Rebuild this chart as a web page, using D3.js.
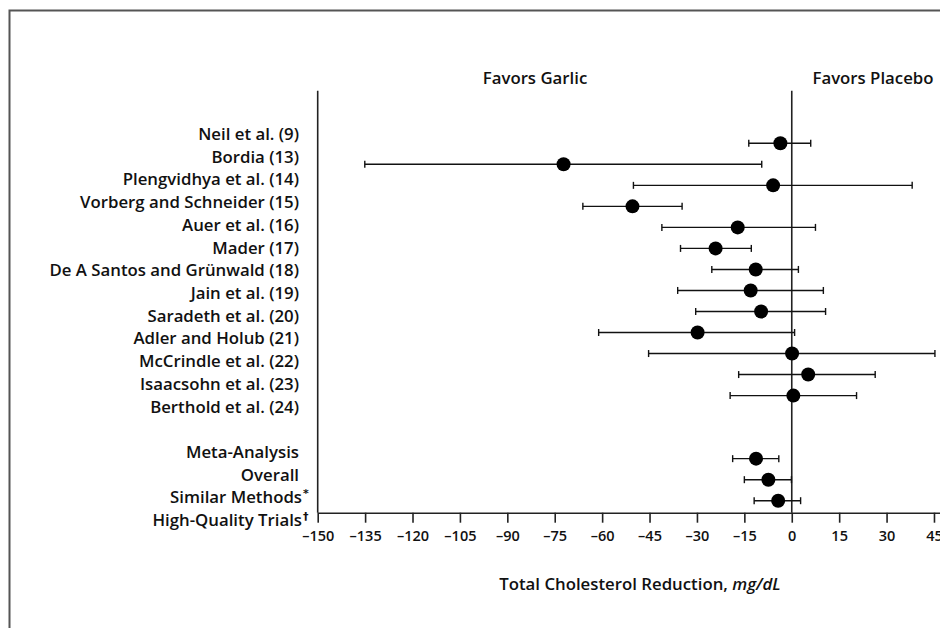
<!DOCTYPE html>
<html>
<head>
<meta charset="utf-8">
<script src="https://cdn.jsdelivr.net/npm/d3@7"></script>
<style>
  html, body { margin: 0; padding: 0; background: #fff; }
  svg { display: block; }
  text { font-family: "Open Sans", "Noto Sans", sans-serif; fill: #111; }
</style>
</head>
<body>
<svg id="chart" width="940" height="628"></svg>
<script>
// ---- data ----
const trials = ["Neil et al. (9)", "Bordia (13)", "Plengvidhya et al. (14)", "Vorberg and Schneider (15)",
  "Auer et al. (16)", "Mader (17)", "De A Santos and Grünwald (18)", "Jain et al. (19)",
  "Saradeth et al. (20)", "Adler and Holub (21)", "McCrindle et al. (22)", "Isaacsohn et al. (23)",
  "Berthold et al. (24)"];
const trialEstimate = [-3.6, -72.2, -5.9, -50.4, -17.1, -24.1, -11.4, -13.0, -9.7, -29.8, 0.1, 5.2, 0.5];
const trialLower    = [-13.6, -135.1, -50.1, -66.1, -41.1, -35.2, -25.3, -36.1, -30.4, -61.1, -45.3, -16.8, -19.5];
const trialUpper    = [6.0, -9.5, 38.1, -34.7, 7.5, -12.8, 2.1, 10.0, 10.7, 0.9, 45.3, 26.4, 20.5];

const metaHeading = "Meta-Analysis";
const metaRows = ["Overall", "Similar Methods", "High-Quality Trials"];
const metaMarks = ["", "*", "\u2020"];
const metaEstimate = [-11.3, -7.4, -4.3];
const metaLower    = [-18.7, -15.0, -11.9];
const metaUpper    = [-4.1, -0.1, 2.8];

const tickValues = [-150, -135, -120, -105, -90, -75, -60, -45, -30, -15, 0, 15, 30, 45];
const headerLeft = "Favors Garlic";
const headerRight = "Favors Placebo";
const axisTitle = "Total Cholesterol Reduction, ";
const axisUnit = "mg/dL";

// ---- layout ----
const svg = d3.select("#chart");
const axisY = 512.7, topY = 90.7;
const fs = "16.8px";

const x = d3.scaleLinear().domain([-150, 47]).range([317.7, 940.3]);

// point rows (trials, two spacer rows, meta rows)
const pointDomain = trials.concat(["_s1", "_s2"], metaRows);
const yPoint = d3.scalePoint().domain(pointDomain).range([143.3, 500.7]);

// label rows
const labelDomain = trials.concat(["_s1", metaHeading], metaRows);
const yLabel = d3.scalePoint().domain(labelDomain).range([135.5, 521.7]);

// frame
svg.append("path")
  .attr("d", "M9.5,628 V10.5 H940")
  .attr("fill", "none").attr("stroke", "#555").attr("stroke-width", 2);

// headers
svg.append("text").attr("x", 535).attr("y", 79).attr("text-anchor", "middle")
  .attr("dominant-baseline", "middle")
  .style("font-size", fs).style("font-weight", 600).text(headerLeft);
svg.append("text").attr("x", 873).attr("y", 79).attr("text-anchor", "middle")
  .attr("dominant-baseline", "middle")
  .style("font-size", fs).style("font-weight", 600).text(headerRight);

// left vertical axis line
svg.append("line").attr("x1", x(-150)).attr("x2", x(-150)).attr("y1", topY).attr("y2", axisY)
  .attr("stroke", "#222").attr("stroke-width", 1.6);
// zero line
svg.append("line").attr("x1", x(0)).attr("x2", x(0)).attr("y1", topY).attr("y2", axisY)
  .attr("stroke", "#222").attr("stroke-width", 1.6);

// x axis
const xAxis = d3.axisBottom(x).tickValues(tickValues).tickSize(10).tickSizeOuter(0)
  .tickFormat(d => d < 0 ? "\u2013" + Math.abs(d) : String(d));
const gx = svg.append("g").attr("transform", `translate(0,${axisY})`).call(xAxis);
gx.select(".domain").attr("stroke", "#222").attr("stroke-width", 1.6);
gx.selectAll(".tick line").attr("stroke", "#222").attr("stroke-width", 1.6);
gx.selectAll(".tick text").attr("y", 23).attr("dy", "0.35em")
  .style("font-family", "'Open Sans', sans-serif")
  .style("font-size", "14.5px").style("font-weight", 600).attr("fill", "#111");

// axis title
const title = svg.append("text").attr("x", 640).attr("y", 585).attr("text-anchor", "middle")
  .attr("dominant-baseline", "middle")
  .style("font-size", fs).style("font-weight", 600);
title.append("tspan").text(axisTitle);
title.append("tspan").style("font-style", "italic").text(axisUnit);

// labels
const labelX = 299;
svg.append("g").selectAll("text").data(trials).join("text")
  .attr("x", labelX).attr("y", d => yLabel(d)).attr("text-anchor", "end")
  .attr("dominant-baseline", "middle")
  .style("font-size", fs).style("font-weight", 600).text(d => d);
svg.append("text").attr("x", labelX).attr("y", yLabel(metaHeading)).attr("text-anchor", "end")
  .attr("dominant-baseline", "middle")
  .style("font-size", fs).style("font-weight", 600).text(metaHeading);
metaRows.forEach((d, i) => {
  const t = svg.append("text").attr("x", labelX).attr("y", yLabel(d))
    .attr("dominant-baseline", "middle")
    .style("font-size", fs).style("font-weight", 600).text(d);
  if (metaMarks[i]) {
    const w = t.node().getComputedTextLength();
    t.attr("x", labelX + 3 - w);
    svg.append("text").attr("x", labelX + 4).attr("y", yLabel(d) - 5)
      .attr("dominant-baseline", "middle").attr("fill", "#111").style("fill", "#111")
      .style("font-family", "'DejaVu Sans', sans-serif")
      .style("font-size", "11px").style("font-weight", 600).text(metaMarks[i]);
  } else {
    t.attr("text-anchor", "end");
  }
});

// error bars + points
const rows = trials.map((d, i) => ({ key: d, est: trialEstimate[i], lo: trialLower[i], hi: trialUpper[i] }))
  .concat(metaRows.map((d, i) => ({ key: d, est: metaEstimate[i], lo: metaLower[i], hi: metaUpper[i] })));

const g = svg.append("g");
const capH = 3.5;
const bar = g.selectAll("g.row").data(rows).join("g").attr("class", "row");
bar.append("line").attr("x1", d => x(d.lo)).attr("x2", d => x(d.hi))
  .attr("y1", d => yPoint(d.key)).attr("y2", d => yPoint(d.key))
  .attr("stroke", "#111").attr("stroke-width", 1.4);
bar.append("line").attr("x1", d => x(d.lo)).attr("x2", d => x(d.lo))
  .attr("y1", d => yPoint(d.key) - capH).attr("y2", d => yPoint(d.key) + capH)
  .attr("stroke", "#111").attr("stroke-width", 1.4);
bar.append("line").attr("x1", d => x(d.hi)).attr("x2", d => x(d.hi))
  .attr("y1", d => yPoint(d.key) - capH).attr("y2", d => yPoint(d.key) + capH)
  .attr("stroke", "#111").attr("stroke-width", 1.4);
bar.append("circle").attr("cx", d => x(d.est)).attr("cy", d => yPoint(d.key))
  .attr("r", 7).attr("fill", "#000");
</script>
</body>
</html>
